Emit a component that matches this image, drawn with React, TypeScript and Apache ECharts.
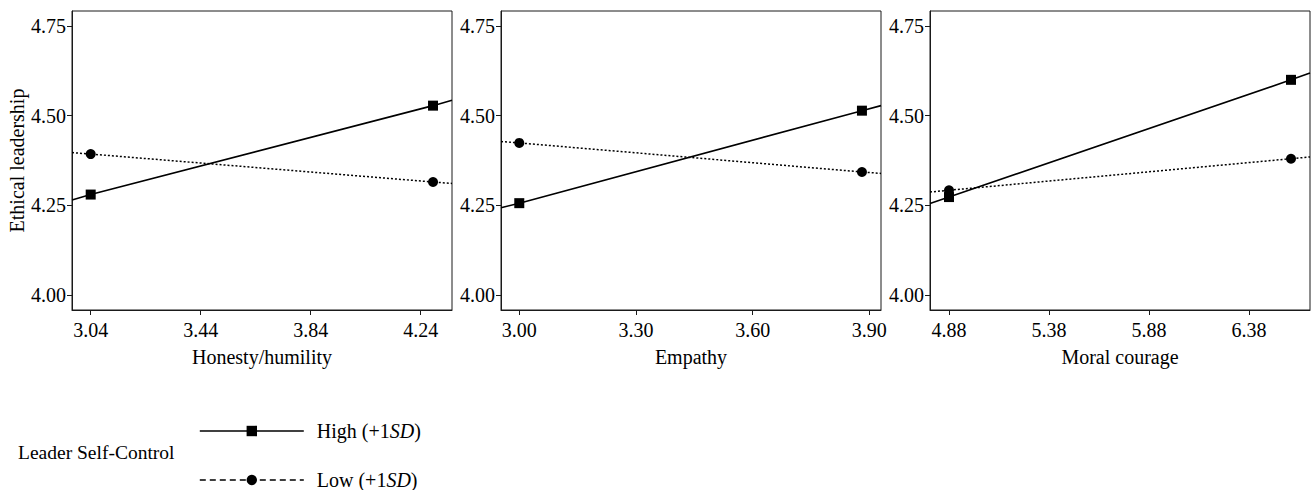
import React, { useEffect, useRef } from "react";
import * as echarts from "echarts";

// ---- data ----
const panelNames = ["Honesty/humility", "Empathy", "Moral courage"];
const yTicks = [4.0, 4.25, 4.5, 4.75];
const yRange = [3.958, 4.792];

// x positions: [left edge of fitted line, -1SD, +1SD, right edge]
const x1 = [2.972, 3.04, 4.285, 4.354];
const x2 = [2.953, 3.0, 3.881, 3.93];
const x3 = [4.785, 4.88, 6.59, 6.685];

const xTicks1 = [3.04, 3.44, 3.84, 4.24];
const xTicks2 = [3.0, 3.3, 3.6, 3.9];
const xTicks3 = [4.88, 5.38, 5.88, 6.38];

const high1 = [4.265, 4.28, 4.528, 4.543];
const low1 = [4.397, 4.393, 4.315, 4.311];
const high2 = [4.243, 4.256, 4.514, 4.528];
const low2 = [4.428, 4.424, 4.343, 4.339];
const high3 = [4.255, 4.273, 4.6, 4.619];
const low3 = [4.287, 4.292, 4.38, 4.385];

const seriesNames = ["High (+1SD)", "Low (+1SD)"];
const legendTitle = "Leader Self-Control";

const FONT = "Liberation Serif";
const FS = 20;

export default function App() {
  const ref = useRef<HTMLDivElement>(null);
  useEffect(() => {
    if (!ref.current) return;
    const chart = echarts.init(ref.current, null, { renderer: "svg" });
    const xs = [x1, x2, x3];
    const xTicks = [xTicks1, xTicks2, xTicks3];
    const highs = [high1, high2, high3];
    const lows = [low1, low2, low3];
    const lefts = [72, 501, 930];

    const grid = lefts.map((l) => ({
      left: l,
      top: 11,
      width: 380,
      height: 299,
      show: true,
      borderColor: "#1a1a1a",
      borderWidth: 1,
      backgroundColor: "transparent",
    }));

    const xAxis = xs.map((xv, i) => ({
      type: "value",
      gridIndex: i,
      min: xv[0],
      max: xv[3],
      name: panelNames[i],
      nameLocation: "middle",
      nameGap: 37,
      nameTextStyle: { fontFamily: FONT, fontSize: FS, color: "#000" },
      axisLine: { show: true, lineStyle: { color: "#1a1a1a", width: 1 } },
      axisTick: {
        show: true,
        length: 5,
        customValues: xTicks[i],
        lineStyle: { color: "#1a1a1a" },
      },
      axisLabel: {
        customValues: xTicks[i],
        margin: 10,
        fontFamily: FONT,
        fontSize: FS,
        color: "#000",
        formatter: (v: number) => v.toFixed(2),
      },
      splitLine: { show: false },
    }));

    const yAxis = [0, 1, 2].map((i) => ({
      type: "value",
      gridIndex: i,
      min: yRange[0],
      max: yRange[1],
      name: i === 0 ? "Ethical leadership" : "",
      nameLocation: "middle",
      nameGap: 44,
      nameTextStyle: { fontFamily: FONT, fontSize: FS, color: "#000" },
      axisLine: { show: true, lineStyle: { color: "#1a1a1a", width: 1 } },
      axisTick: {
        show: true,
        length: 5,
        customValues: yTicks,
        lineStyle: { color: "#1a1a1a" },
      },
      axisLabel: {
        customValues: yTicks,
        margin: 6,
        fontFamily: FONT,
        fontSize: FS,
        color: "#000",
        formatter: (v: number) => v.toFixed(2),
      },
      splitLine: { show: false },
    }));

    const mk = (xv: number[], yv: number[]) =>
      xv.map((x, j) => ({
        value: [x, yv[j]],
        symbol: j === 0 || j === 3 ? "none" : undefined,
      }));

    const series: any[] = [];
    for (let i = 0; i < 3; i++) {
      series.push({
        type: "line",
        name: seriesNames[0],
        xAxisIndex: i,
        yAxisIndex: i,
        data: mk(xs[i], highs[i]),
        symbol: "rect",
        symbolSize: 10,
        showSymbol: true,
        showAllSymbol: true,
        lineStyle: { color: "#000", width: 1.6 },
        itemStyle: { color: "#000" },
        z: 3,
      });
      series.push({
        type: "line",
        name: seriesNames[1],
        xAxisIndex: i,
        yAxisIndex: i,
        data: mk(xs[i], lows[i]),
        symbol: "circle",
        symbolSize: 10,
        showSymbol: true,
        showAllSymbol: true,
        lineStyle: { color: "#000", width: 1.5, type: [2, 2] },
        itemStyle: { color: "#000" },
        z: 2,
      });
    }

    const legendText = {
      fontFamily: FONT,
      fontSize: FS,
      color: "#000",
      padding: [0, 0, 0, 8],
      rich: {
        i: { fontFamily: FONT, fontSize: FS, fontStyle: "italic", color: "#000" },
      },
    };
    const mkLegend = (k: number, top: number, lineType: any) => ({
      left: 199,
      top,
      padding: 0,
      itemWidth: 104,
      itemHeight: 13,
      data: [seriesNames[k]],
      lineStyle: { type: lineType, width: 1.6 },
      formatter: (name: string) => name.replace("SD)", "{i|SD})"),
      textStyle: legendText,
    });

    chart.setOption({
      animation: false,
      backgroundColor: "#fff",
      title: {
        text: legendTitle,
        left: 18,
        top: 442,
        padding: 0,
        textStyle: { fontFamily: FONT, fontSize: 19.5, fontWeight: "normal", color: "#000" },
      },
      legend: [mkLegend(0, 421, "solid"), mkLegend(1, 470, [6, 4])],
      grid,
      xAxis,
      yAxis,
      series,
    });
    return () => chart.dispose();
  }, []);
  return (
    <div
      ref={ref}
      style={{ position: "fixed", left: 0, top: 0, width: 1312, height: 490 }}
    />
  );
}
